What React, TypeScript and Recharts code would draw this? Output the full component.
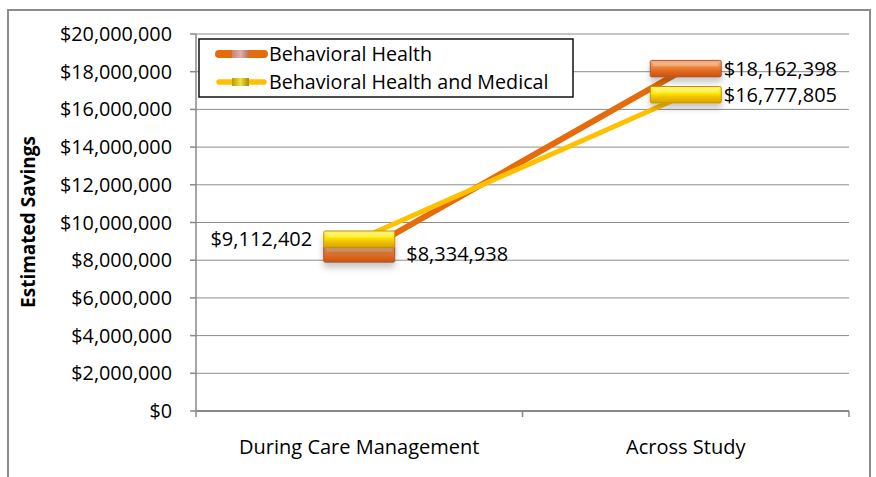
import React from 'react';
import { LineChart, Line, XAxis, YAxis, CartesianGrid, Legend, LabelList } from 'recharts';

const categories = ['During Care Management', 'Across Study'];
const behavioralHealth = [8334938, 18162398];
const behavioralHealthMedical = [9112402, 16777805];
const yTicks = [0, 2000000, 4000000, 6000000, 8000000, 10000000, 12000000, 14000000, 16000000, 18000000, 20000000];
const seriesNames = ['Behavioral Health', 'Behavioral Health and Medical'];

const data = categories.map((c, i) => ({ cat: c, bh: behavioralHealth[i], bhm: behavioralHealthMedical[i] }));

const FONT = "'Open Sans', sans-serif";
const ORANGE = '#E46C0A';
const YELLOW = '#FFC000';

const money = (v: number) => '$' + v.toLocaleString('en-US');

const Defs = () => (
  <defs>
    <linearGradient id="gOrange" x1="0" y1="0" x2="0" y2="1">
      <stop offset="0%" stopColor="#F7B07C" />
      <stop offset="35%" stopColor="#F08A45" />
      <stop offset="65%" stopColor="#E2691E" />
      <stop offset="100%" stopColor="#C65410" />
    </linearGradient>
    <linearGradient id="gYellow" x1="0" y1="0" x2="0" y2="1">
      <stop offset="0%" stopColor="#FFF37A" />
      <stop offset="40%" stopColor="#FFEA00" />
      <stop offset="62%" stopColor="#F2C400" />
      <stop offset="100%" stopColor="#D6A200" />
    </linearGradient>
    <linearGradient id="gLegO" x1="0" y1="0" x2="1" y2="0">
      <stop offset="0%" stopColor="#C98672" />
      <stop offset="50%" stopColor="#E2AFA2" />
      <stop offset="100%" stopColor="#B8705E" />
    </linearGradient>
    <linearGradient id="gLegY" x1="0" y1="0" x2="1" y2="0">
      <stop offset="0%" stopColor="#B89A00" />
      <stop offset="50%" stopColor="#F0E040" />
      <stop offset="100%" stopColor="#A88A00" />
    </linearGradient>
    <filter id="shadow" x="-20%" y="-50%" width="140%" height="250%">
      <feDropShadow dx="0" dy="5" stdDeviation="3" floodColor="#000" floodOpacity="0.22" />
    </filter>
  </defs>
);

const makeDot = (kind: 'o' | 'y') => (props: any) => {
  const { cx, cy, index } = props;
  if (cx == null || cy == null) return <g key={`d${kind}${index}`} />;
  const w = 71;
  const h = 16.5;
  return (
    <g key={`d${kind}${index}`}>
      <Defs />
      <rect
        x={cx - w / 2}
        y={cy - h / 2}
        width={w}
        height={h}
        rx={1.5}
        fill={kind === 'o' ? 'url(#gOrange)' : 'url(#gYellow)'}
        stroke={kind === 'o' ? '#A9553A' : '#C39400'}
        strokeWidth={1}
        filter="url(#shadow)"
      />
      <rect
        x={cx - w / 2 + 3}
        y={cy - h / 2 + 2}
        width={w - 6}
        height={4}
        fill="#ffffff"
        opacity={0.25}
      />
    </g>
  );
};

const makeLabel = (leftFirst: boolean) => (props: any) => {
  const { x, y, value, index } = props;
  const left = leftFirst && index === 0;
  const off = index === 0 ? 47 : 38;
  return (
    <text
      key={`l${index}`}
      x={left ? x - off : x + off}
      y={y}
      dy="0.36em"
      textAnchor={left ? 'end' : 'start'}
      fontFamily={FONT}
      fontSize={20}
      fill="#000"
    >
      {money(value)}
    </text>
  );
};

const XTick = (props: any) => {
  const { x, y, payload, index, visibleTicksCount } = props;
  const off = payload && payload.offset != null ? payload.offset : 163;
  const isLast = index === (visibleTicksCount ?? 2) - 1;
  return (
    <g>
      <line x1={x - off} x2={x - off} y1={y} y2={y + 6} stroke="#888" strokeWidth={1.5} />
      {isLast && <line x1={x + off} x2={x + off} y1={y} y2={y + 6} stroke="#888" strokeWidth={1.5} />}
      <text x={x} y={y + 43} textAnchor="middle" fontFamily={FONT} fontSize={20} fill="#000">
        {payload.value}
      </text>
    </g>
  );
};

const YTitle = () => (
  <text
    x={28}
    y={222}
    transform="rotate(-90 28 222)"
    textAnchor="middle"
    dominantBaseline="central"
    fontFamily={FONT}
    fontWeight="bold"
    fontSize={19}
    fill="#000"
  >
    Estimated Savings
  </text>
);

const LegendContent = (props: any) => {
  const payload = props.payload || [];
  return (
    <svg width={376} height={60} style={{ display: 'block' }}>
      <Defs />
      <rect x={1} y={1} width={374} height={58} fill="#fff" stroke="#111" strokeWidth={1.5} />
      {payload.map((p: any, i: number) => {
        const yy = i === 0 ? 16 : 44;
        const isO = i === 0;
        return (
          <g key={i}>
            <line x1={21} x2={66} y1={yy} y2={yy} stroke={p.color} strokeWidth={isO ? 8 : 5.5} strokeLinecap="round" />
            <rect x={34} y={yy - 4} width={17} height={8} fill={isO ? 'url(#gLegO)' : 'url(#gLegY)'} />
            <text x={71} y={yy} dy="0.36em" fontFamily={FONT} fontSize={19.7} fill="#000">
              {p.value}
            </text>
          </g>
        );
      })}
    </svg>
  );
};

export default function App() {
  return (
    <div style={{ position: 'absolute', left: 0, top: 0, width: 876, height: 477, overflow: 'hidden', background: '#fff' }}>
      <div
        style={{
          position: 'absolute',
          left: 7,
          top: 9,
          width: 864,
          height: 500,
          border: '2px solid #8c8c8c',
          boxSizing: 'border-box',
        }}
      />
      <div style={{ position: 'absolute', left: 0, top: 0 }}>
        <LineChart width={876} height={477} data={data} margin={{ top: 34, right: 27, bottom: 0, left: 0 }}>
          <CartesianGrid vertical={false} stroke="#8c8c8c" strokeWidth={1} />
          <XAxis
            dataKey="cat"
            scale="band"
            height={66}
            axisLine={{ stroke: '#888', strokeWidth: 2 }}
            tickLine={false}
            tickSize={0}
            tickMargin={0}
            tick={<XTick />}
            interval={0}
          />
          <XAxis
            xAxisId="top"
            dataKey="cat"
            scale="band"
            orientation="top"
            height={0}
            tick={false}
            tickLine={false}
            axisLine={{ stroke: '#1a1a1a', strokeWidth: 1.5 }}
          />
          <YAxis
            width={196}
            domain={[0, 20000000]}
            ticks={yTicks}
            interval={0}
            tickFormatter={money}
            axisLine={{ stroke: '#888', strokeWidth: 1.5 }}
            tickLine={{ stroke: '#888', strokeWidth: 1.5 }}
            tickSize={6}
            tickMargin={18}
            tick={{ fontFamily: FONT, fontSize: 19.8, fill: '#000' }}
            label={<YTitle />}
          />
          <YAxis
            yAxisId="r"
            orientation="right"
            width={0}
            domain={[0, 20000000]}
            tick={false}
            tickLine={false}
            axisLine={{ stroke: '#1a1a1a', strokeWidth: 1.5 }}
          />
          <Legend
            layout="vertical"
            align="center"
            verticalAlign="middle"
            content={<LegendContent />}
            wrapperStyle={{ position: 'absolute', left: 198, top: 38, width: 376, height: 60 }}
          />
          <Line
            dataKey="bh"
            name={seriesNames[0]}
            stroke={ORANGE}
            strokeWidth={6}
            dot={makeDot('o')}
            activeDot={false}
            isAnimationActive={false}
          >
            <LabelList dataKey="bh" content={makeLabel(false)} />
          </Line>
          <Line
            dataKey="bhm"
            name={seriesNames[1]}
            stroke={YELLOW}
            strokeWidth={5}
            dot={makeDot('y')}
            activeDot={false}
            isAnimationActive={false}
          >
            <LabelList dataKey="bhm" content={makeLabel(true)} />
          </Line>
        </LineChart>
      </div>
    </div>
  );
}
